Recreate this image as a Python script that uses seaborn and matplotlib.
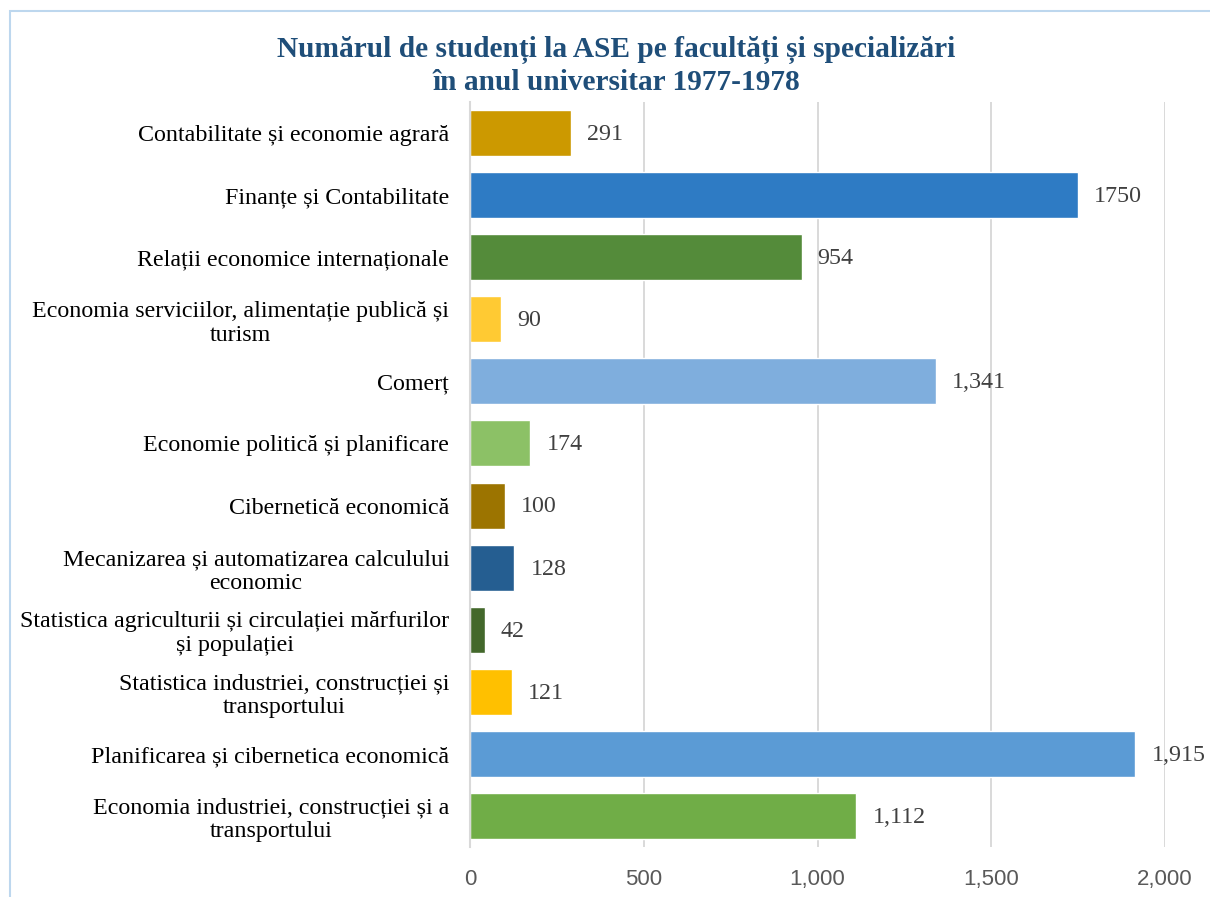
import matplotlib
matplotlib.use("Agg")
import matplotlib.pyplot as plt
import seaborn as sns
import pandas as pd
from matplotlib.patches import Rectangle
from matplotlib.ticker import FuncFormatter, MultipleLocator

categories = [
    "Contabilitate și economie agrară",
    "Finanțe și Contabilitate",
    "Relații economice internaționale",
    "Economia serviciilor, alimentație publică și\nturism",
    "Comerț",
    "Economie politică și planificare",
    "Cibernetică economică",
    "Mecanizarea și automatizarea calculului\neconomic",
    "Statistica agriculturii și circulației mărfurilor\nși populației",
    "Statistica industriei, construcției și\ntransportului",
    "Planificarea și cibernetica economică",
    "Economia industriei, construcției și a\ntransportului",
]
values = [291, 1750, 954, 90, 1341, 174, 100, 128, 42, 121, 1915, 1112]
value_labels = ["291", "1750", "954", "90", "1,341", "174", "100", "128", "42", "121", "1,915", "1,112"]
colors = ["#CC9900", "#2E7BC4", "#548B3A", "#FFCA33", "#7FAEDD", "#8CC166",
          "#9C7400", "#255E91", "#43682B", "#FFC000", "#5B9BD5", "#70AD47"]
title = "Numărul de studenți la ASE pe facultăți și specializări\nîn anul universitar 1977-1978"

df = pd.DataFrame({"cat": categories, "val": values})

sns.set_style("white")
fig = plt.figure(figsize=(12.1, 8.97), dpi=100)
ax = fig.add_axes([470/1210, 1 - 847/897, 695/1210, 745/897])

sns.barplot(data=df, y="cat", x="val", hue="cat", palette=colors, order=categories,
            hue_order=categories, orient="h", width=0.74, legend=False, ax=ax,
            saturation=1)

ax.set_xlim(0, 2000)
ax.xaxis.set_major_locator(MultipleLocator(500))
ax.xaxis.set_major_formatter(FuncFormatter(lambda v, p: f"{int(v):,}"))
ax.grid(axis="x", color="#D9D9D9", linewidth=1.4)
ax.set_axisbelow(True)
for s in ["top", "right", "bottom"]:
    ax.spines[s].set_visible(False)
ax.spines["left"].set_color("#D9D9D9")
ax.spines["left"].set_linewidth(1.5)
ax.set_xlabel("")
ax.set_ylabel("")
ax.tick_params(axis="both", length=0)
ax.tick_params(axis="x", pad=16, labelsize=16, labelcolor="#595959")
ax.tick_params(axis="y", pad=15)
for t in ax.get_xticklabels():
    t.set_fontfamily("Liberation Sans")
for t in ax.get_yticklabels():
    t.set_fontfamily("Liberation Serif")
    t.set_fontsize(17.3)
    t.set_color("black")
    t.set_multialignment("center")
    t.set_linespacing(1.17)

for i, (v, lab) in enumerate(zip(values, value_labels)):
    ax.annotate(lab, xy=(v, i), xytext=(11.5, -1), textcoords="offset points",
                ha="left", va="center", fontsize=17.3, color="#404040",
                fontfamily="Liberation Serif")

fig.text(616/1210, 1 - 66/897, title, ha="center", va="center", fontsize=21.2,
         fontweight="bold", color="#1F4E79", fontfamily="Liberation Serif",
         linespacing=1.2)

fig.patches.append(Rectangle((10/1210, -0.1), 1.2, 1 - 11/897 + 0.1,
                             transform=fig.transFigure, fill=False,
                             edgecolor="#BDD7EE", linewidth=1.5))

fig.savefig("out.png", dpi=100)
